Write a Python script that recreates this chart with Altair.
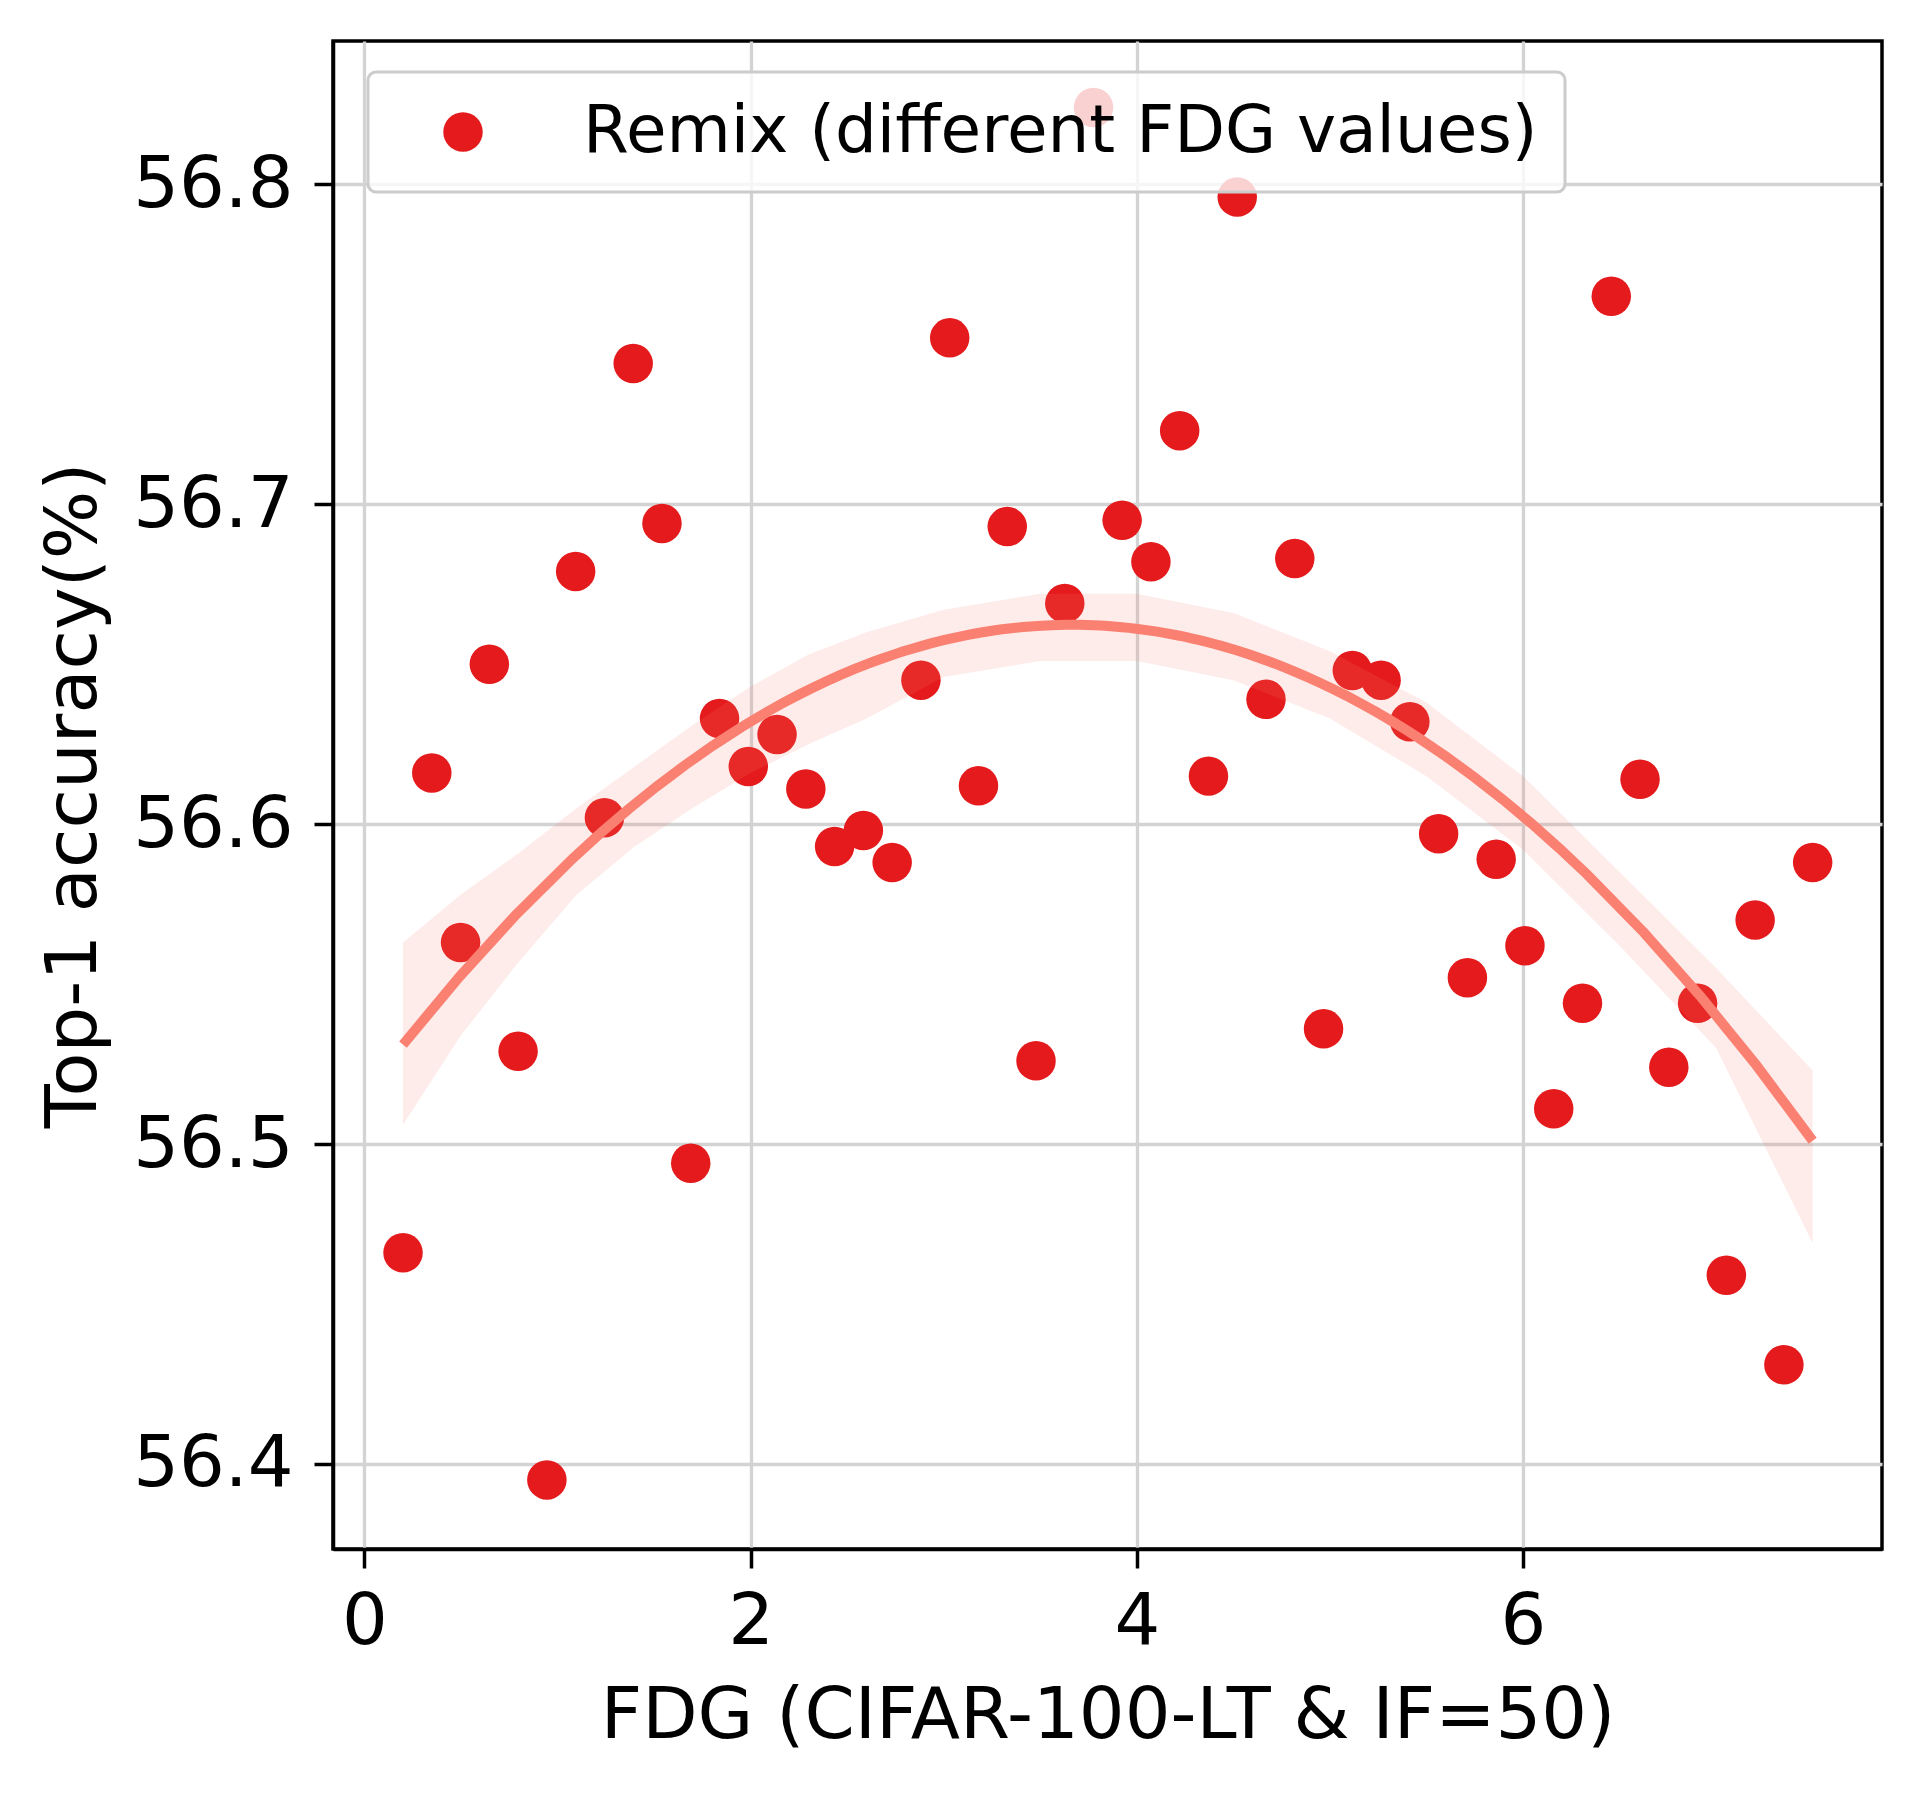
import altair as alt
import pandas as pd

# FDG values (x)
fdg = [0.200, 0.349, 0.498, 0.647, 0.796, 0.945, 1.094, 1.243, 1.392, 1.541,
       1.690, 1.839, 1.988, 2.137, 2.286, 2.435, 2.584, 2.733, 2.882, 3.031,
       3.180, 3.329, 3.478, 3.627, 3.776, 3.924, 4.073, 4.222, 4.371, 4.520,
       4.669, 4.818, 4.967, 5.116, 5.265, 5.414, 5.563, 5.712, 5.861, 6.010,
       6.159, 6.308, 6.457, 6.606, 6.755, 6.904, 7.053, 7.202, 7.351, 7.500]

# Top-1 accuracy (%)
acc = [56.466, 56.616, 56.563, 56.650, 56.529, 56.395, 56.679, 56.602, 56.744, 56.694,
       56.494, 56.633, 56.618, 56.628, 56.611, 56.593, 56.598, 56.588, 56.645, 56.752,
       56.612, 56.693, 56.526, 56.669, 56.824, 56.695, 56.682, 56.723, 56.615, 56.796,
       56.639, 56.683, 56.536, 56.648, 56.645, 56.632, 56.597, 56.552, 56.589, 56.562,
       56.511, 56.544, 56.765, 56.614, 56.524, 56.544, 56.459, 56.570, 56.431, 56.588]

# Confidence band of the quadratic fit
band_x = [0.2, 0.5, 0.8, 1.1, 1.4, 1.7, 2.0, 2.3, 2.6, 3.0,
          3.5, 4.0, 4.5, 5.0, 5.5, 6.0, 6.5, 7.0, 7.5]
band_hi = [56.563, 56.578, 56.591, 56.605, 56.618, 56.631, 56.643, 56.653, 56.660, 56.667,
           56.672, 56.672, 56.666, 56.654, 56.638, 56.615, 56.585, 56.555, 56.523]
band_lo = [56.506, 56.534, 56.557, 56.578, 56.593, 56.605, 56.616, 56.625, 56.633, 56.646,
           56.651, 56.651, 56.645, 56.633, 56.615, 56.592, 56.562, 56.530, 56.469]

series_label = "Remix (different FDG values)"
x_ticks = [0, 2, 4, 6]
y_ticks = [56.4, 56.5, 56.6, 56.7, 56.8]

pts = pd.DataFrame({"fdg": fdg, "acc": acc, "series": [series_label] * len(fdg)})
band = pd.DataFrame({"fdg": band_x, "lo": band_lo, "hi": band_hi})

XT = "FDG (CIFAR-100-LT & IF=50)"
YT = "Top-1 accuracy(%)"

xscale = alt.Scale(domain=[-0.1626, 7.859], nice=False, zero=False)
yscale = alt.Scale(domain=[56.3734, 56.8448], nice=False, zero=False)

xaxis = alt.Axis(values=x_ticks, format="d", labelPadding=18, titleY=188.7,
                 titleBaseline="alphabetic", labelFlush=False)
yaxis = alt.Axis(values=y_ticks, format=".1f", labelPadding=21, titleX=-238,
                 titleBaseline="alphabetic", labelFlush=False)

points = alt.Chart(pts).mark_circle(size=1560, opacity=1).encode(
    x=alt.X("fdg:Q", scale=xscale, axis=xaxis, title=XT),
    y=alt.Y("acc:Q", scale=yscale, axis=yaxis, title=YT),
    color=alt.Color(
        "series:N",
        scale=alt.Scale(range=["#e41a1c"]),
        legend=alt.Legend(
            title=None,
            orient="none",
            legendX=35,
            legendY=31,
            fillColor="rgba(255,255,255,0.8)",
            strokeColor="#cccccc",
            cornerRadius=8,
            padding=27,
            symbolType="circle",
            symbolSize=1560,
            symbolOffset=35,
            symbolStrokeWidth=0,
            symbolOpacity=1,
            labelOffset=87,
            labelFontSize=66,
            labelFont="DejaVu Sans",
            labelColor="black",
            labelLimit=1500,
            zindex=5,
        ),
    ),
)

band_layer = alt.Chart(band).mark_area(color="#fa8072", opacity=0.15).encode(
    x=alt.X("fdg:Q", scale=xscale, title=XT),
    y=alt.Y("lo:Q", scale=yscale, title=YT),
    y2="hi:Q",
)

fit_line = alt.Chart(pts).transform_regression(
    "fdg", "acc", method="poly", order=2
).mark_line(color="#fa8072", strokeWidth=10).encode(
    x=alt.X("fdg:Q", scale=xscale, title=XT),
    y=alt.Y("acc:Q", scale=yscale, title=YT),
)

chart = alt.layer(points, band_layer, fit_line).properties(
    width=1549,
    height=1508,
    autosize=alt.AutoSizeParams(type="none"),
    padding={"left": 325, "top": 33, "right": 33, "bottom": 236},
    background="white",
).configure(
    font="DejaVu Sans",
).configure_view(
    stroke="black",
    strokeWidth=3.5,
).configure_axis(
    labelFontSize=72,
    labelColor="black",
    titleFontSize=72,
    titleFontWeight="normal",
    titleColor="black",
    tickSize=19,
    tickWidth=3.5,
    tickColor="black",
    domainColor="black",
    domainWidth=3.5,
    gridColor="#d3d3d3",
    gridWidth=3.3,
    labelOverlap=False,
).configure_legend(
    strokeWidth=3,
)

chart.save("out.html", embed_options={"renderer": "svg", "actions": False})
